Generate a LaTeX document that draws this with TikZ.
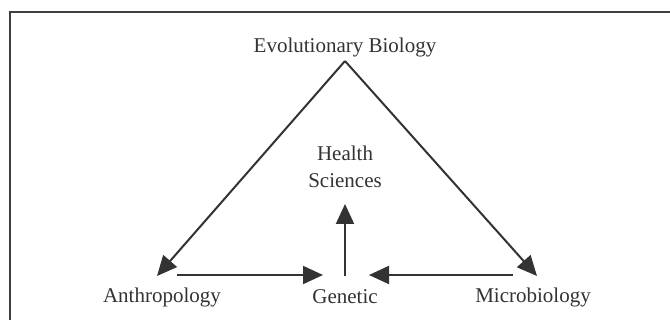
\documentclass[tikz,border=0pt]{standalone}
\usepackage{fontspec}
\setmainfont{Liberation Serif}
\usetikzlibrary{arrows.meta}
\begin{document}
\begin{tikzpicture}[x=1pt,y=-1pt,
  lbl/.style={font=\fontsize{21}{26}\selectfont, text=black!80, inner sep=0pt, align=center},
  ln/.style={draw=black!80, line width=2pt},
  arr/.style={ln, -{Triangle[length=20pt,width=18pt]}}]
\useasboundingbox (0,0) rectangle (670,320);
\fill[white] (0,0) rectangle (670,320);
% frame
\coordinate (fr1) at (10,320);
\coordinate (fr2) at (10,12);
\coordinate (fr3) at (670,12);
\draw[draw=black!75, line width=2.2pt] (fr1) -- (fr2) -- (fr3);
% labels
\node[lbl] (evo) at (345,47) {Evolutionary Biology};
\node[lbl] (health) at (345,167) {Health\\[1pt]Sciences};
\node[lbl] (anth) at (162,297) {Anthropology};
\node[lbl] (gen) at (345,297) {Genetic};
\node[lbl] (micro) at (533,297) {Microbiology};
% connector points
\coordinate (apex) at (345,61);
\coordinate (tipL) at (157,276);
\coordinate (tipR) at (537,276);
\coordinate (aS) at (177,275);
\coordinate (aE) at (323,275);
\coordinate (mS) at (513,275);
\coordinate (mE) at (369,275);
\coordinate (vS) at (345,276);
\coordinate (vE) at (345,204);
% connectors
\draw[arr] (apex) -- (tipL);
\draw[arr] (apex) -- (tipR);
\draw[arr] (aS) -- (aE);
\draw[arr] (mS) -- (mE);
\draw[arr] (vS) -- (vE);
\end{tikzpicture}
\end{document}
